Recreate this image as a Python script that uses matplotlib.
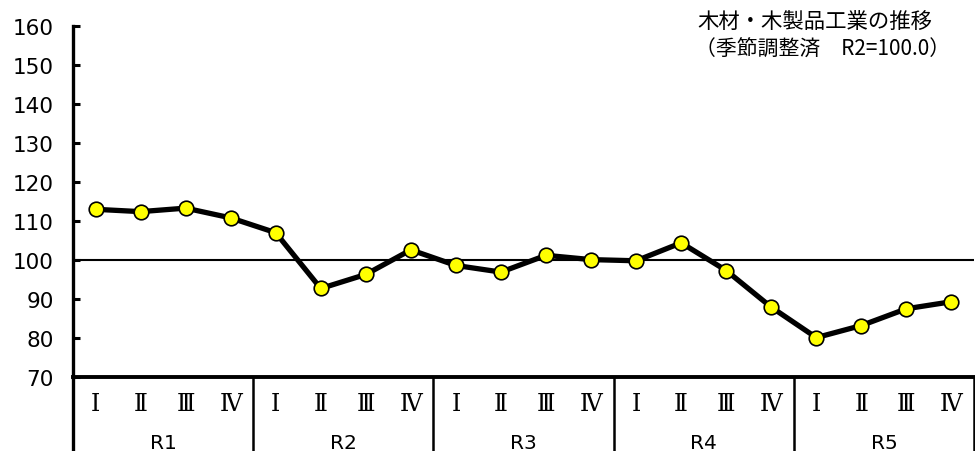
import matplotlib
matplotlib.use("Agg")
import matplotlib.pyplot as plt
import numpy as np

# quarterly index, seasonally adjusted (R2 = 100.0)
years = ["R1", "R2", "R3", "R4", "R5"]
quarters = ["Ⅰ", "Ⅱ", "Ⅲ", "Ⅳ"]
values = [113.0, 112.4, 113.3, 110.8,
          107.0, 92.7, 96.3, 102.6,
          98.6, 96.9, 101.2, 100.1,
          99.8, 104.4, 97.3, 87.9,
          80.1, 83.2, 87.5, 89.3]
yticks = [70, 80, 90, 100, 110, 120, 130, 140, 150, 160]

jp = ["Noto Sans CJK JP", "DejaVu Sans"]

fig = plt.figure(figsize=(9.75, 4.52), dpi=100)
ax = fig.add_axes([73/975, 1-378/452, 901/975, 351/452])

x = np.arange(len(values)) + 0.5
ax.axhline(100, color="black", lw=1.5, zorder=1)
ax.plot(x, values, color="black", lw=3.8, marker="o", ms=10.5,
        mfc="#FFFF00", mec="black", mew=1.2, zorder=3)

ax.set_xlim(0, len(values))
ax.set_ylim(70, 160)
ax.set_yticks(yticks)
ax.set_yticklabels([str(v) for v in yticks], fontsize=15.5, family="DejaVu Sans")
ax.tick_params(axis="y", direction="in", length=5, width=2.2, pad=14)
ax.set_xticks([])

for s in ["top", "right"]:
    ax.spines[s].set_visible(False)
ax.spines["left"].set_linewidth(2.4)
ax.spines["bottom"].set_linewidth(2.8)

# category table under the axis
tr = ax.get_xaxis_transform()
for i in range(len(years) + 1):
    ax.plot([i*4, i*4], [0, -0.3], transform=tr, color="black",
            lw=2.4 if i == 0 else 1.8, clip_on=False)

for i, xv in enumerate(x):
    ax.text(xv, -0.076, quarters[i % 4], transform=tr, ha="center",
            va="center", fontsize=17, family="DejaVu Serif")
for j, yr in enumerate(years):
    ax.text(j*4 + 2, -0.16, yr, transform=tr, ha="center", va="top",
            fontsize=14.5, family="DejaVu Sans")

fig.text(697/975, 1-23/452, "木材・木製品工業の推移", ha="left", va="center",
         fontsize=15.4, family=jp)
fig.text(695/975, 1-50/452, "（季節調整済　R2=100.0）", ha="left", va="center",
         fontsize=15, family=jp)

fig.savefig("out.png", dpi=100)
